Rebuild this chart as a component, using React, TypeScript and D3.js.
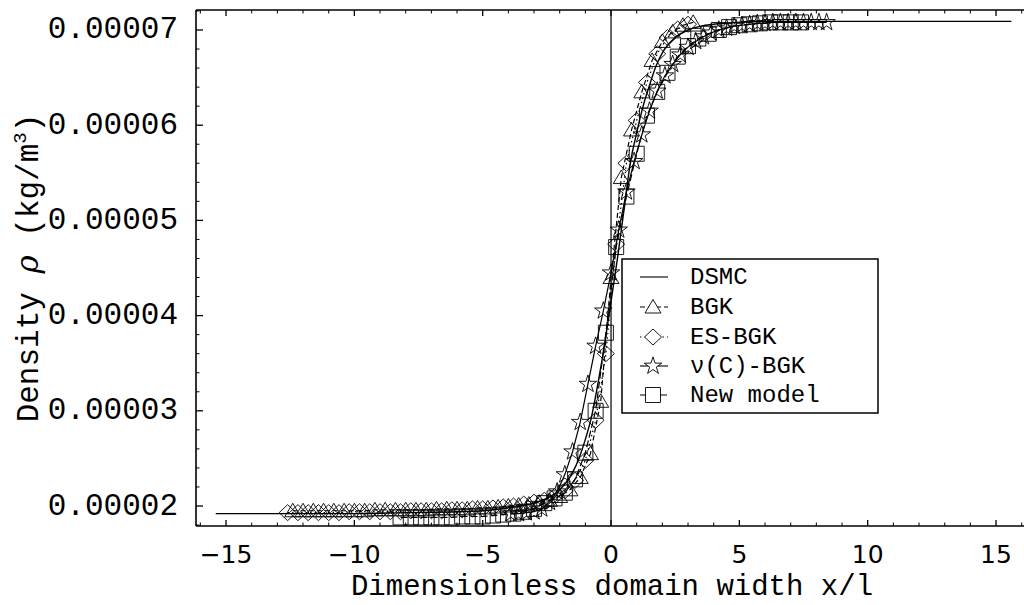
import React from 'react'
import * as d3 from 'd3'

// density values are in units of 1e-5 kg/m^3
const xTicks = [-15, -10, -5, 0, 5, 10, 15]
const xTickLabels = ['\u221215', '\u221210', '\u22125', '0', '5', '10', '15']
const yTicks = [2, 3, 4, 5, 6, 7]
const yTickLabels = ['0.00002', '0.00003', '0.00004', '0.00005', '0.00006', '0.00007']

const dsmcX = [-15.4, -12, -10, -8, -6, -5, -4, -3, -2.5, -2, -1.5, -1.25, -1, -0.75, -0.5, -0.25, 0, 0.25, 0.5, 0.75, 1, 1.25, 1.5, 1.75, 2, 2.5, 3, 3.5, 4, 5, 6, 15.6]
const dsmcRho = [1.92, 1.92, 1.92, 1.93, 1.94, 1.95, 1.98, 2.03, 2.08, 2.17, 2.35, 2.5, 2.7, 2.95, 3.3, 3.7, 4.15, 4.6, 5.1, 5.6, 5.92, 6.2, 6.42, 6.62, 6.76, 6.92, 7.0, 7.04, 7.06, 7.08, 7.09, 7.09]

const bgkX = [-12.4, -12, -11.6, -11.2, -10.8, -10.4, -10, -9.6, -9.2, -8.8, -8.4, -8, -7.6, -7.2, -6.8, -6.4, -6, -5.6, -5.2, -4.8, -4.4, -4, -3.6, -3.2, -2.8, -2.4, -2, -1.6, -1.2, -0.8, -0.4, 0, 0.4, 0.8, 1.2, 1.6, 2, 2.4, 2.8, 3.2]
const bgkRho = [1.95, 1.95, 1.95, 1.95, 1.95, 1.95, 1.95, 1.95, 1.96, 1.96, 1.96, 1.96, 1.96, 1.96, 1.97, 1.97, 1.97, 1.97, 1.98, 1.98, 1.99, 2.0, 2.01, 2.02, 2.04, 2.06, 2.1, 2.17, 2.3, 2.55, 3.1, 4.4, 5.45, 5.95, 6.35, 6.68, 6.88, 6.98, 7.05, 7.08]

const esX = [-12.6, -12.2, -11.8, -11.4, -11, -10.6, -10.2, -9.8, -9.4, -9, -8.6, -8.2, -7.8, -7.4, -7, -6.6, -6.2, -5.8, -5.4, -5, -4.6, -4.2, -3.8, -3.4, -3, -2.6, -2.2, -1.8, -1.4, -1, -0.6, -0.2, 0.2, 0.6, 1, 1.4, 1.8, 2.2, 2.6, 3]
const esRho = [1.93, 1.93, 1.93, 1.93, 1.93, 1.93, 1.94, 1.94, 1.94, 1.94, 1.94, 1.94, 1.95, 1.95, 1.95, 1.95, 1.96, 1.96, 1.97, 1.97, 1.98, 1.99, 2.0, 2.02, 2.04, 2.06, 2.1, 2.16, 2.27, 2.48, 2.9, 3.6, 4.75, 5.6, 6.05, 6.45, 6.75, 6.92, 7.01, 7.06]

const nucX = [-3.9, -3.6, -3.3, -3, -2.7, -2.4, -2.1, -1.8, -1.5, -1.2, -0.9, -0.6, -0.3, 0, 0.3, 0.6, 0.9, 1.2, 1.5, 1.8, 2.1, 2.4, 2.7, 3, 3.3, 3.6, 3.9, 4.2, 4.5, 4.8, 5.1, 5.4, 5.7, 6, 6.3, 6.6, 6.9, 7.2, 7.5, 7.8, 8.1, 8.4]
const nucRho = [1.92, 1.92, 1.93, 1.94, 1.97, 2.04, 2.15, 2.33, 2.57, 2.88, 3.28, 3.68, 4.05, 4.45, 4.9, 5.3, 5.62, 5.9, 6.15, 6.36, 6.52, 6.64, 6.74, 6.82, 6.88, 6.93, 6.97, 7.0, 7.02, 7.04, 7.05, 7.06, 7.07, 7.07, 7.08, 7.08, 7.08, 7.08, 7.08, 7.08, 7.08, 7.08]

const newX = [-8.2, -7.8, -7.4, -7, -6.6, -6.2, -5.8, -5.4, -5, -4.6, -4.2, -3.8, -3.4, -3, -2.6, -2.2, -1.8, -1.4, -1, -0.6, -0.2, 0.2, 0.6, 1, 1.4, 1.8, 2.2, 2.6, 3, 3.4, 3.8, 4.2, 4.6, 5, 5.4, 5.8, 6.2, 6.6, 7, 7.4]
const newRho = [1.88, 1.88, 1.88, 1.88, 1.88, 1.88, 1.89, 1.89, 1.89, 1.9, 1.91, 1.92, 1.94, 1.97, 2.03, 2.08, 2.14, 2.28, 2.56, 3.0, 3.82, 4.72, 5.25, 5.7, 6.1, 6.35, 6.55, 6.72, 6.83, 6.91, 6.96, 7.0, 7.03, 7.05, 7.06, 7.07, 7.08, 7.08, 7.08, 7.08]

const legendNames = ['DSMC', 'BGK', 'ES-BGK', '\u03bd(C)-BGK', 'New model']

const MONO = '"Liberation Mono", "DejaVu Sans Mono", monospace'

const marker = (kind: string) => {
  if (kind === 'tri') return 'M0,-7.5L8,6L-8,6Z'
  if (kind === 'dia') return 'M0,-8L8.5,0L0,8L-8.5,0Z'
  if (kind === 'sq') return 'M-7.5,-7.5H7.5V7.5H-7.5Z'
  if (kind === 'star') return d3.symbol(d3.symbolStar, 95)() as string
  return ''
}

export default function App() {
  const left = 196, right = 1024, top = 10, bottom = 526
  const x = d3.scaleLinear().domain([-16.17, 16.09]).range([left, right])
  const y = d3.scaleLinear().domain([1.79, 7.21]).range([bottom, top])

  const line = (xs: number[], ys: number[]) =>
    d3.line<number>().x((d, i) => x(xs[i])).y(d => y(d))(ys) as string
  const smooth = (xs: number[], ys: number[]) =>
    d3.line<number>().x((d, i) => x(xs[i])).y(d => y(d)).curve(d3.curveMonotoneX)(ys) as string

  const series = [
    { xs: bgkX, ys: bgkRho, dash: '5,3', m: 'tri' },
    { xs: esX, ys: esRho, dash: '1.5,3', m: 'dia' },
    { xs: nucX, ys: nucRho, dash: '', m: 'star' },
    { xs: newX, ys: newRho, dash: '7,3', m: 'sq' },
  ]

  const xMinor = d3.range(-16, 17, 1)
  const yMinor = d3.range(1.8, 7.21, 0.2)

  const legendRows = [277, 307, 337, 366, 395]
  const legendStyle = [
    { dash: '', m: '' },
    { dash: '5,3', m: 'tri' },
    { dash: '1.5,3', m: 'dia' },
    { dash: '', m: 'star' },
    { dash: '7,3', m: 'sq' },
  ]

  return (
    <svg width={1024} height={605} style={{ position: 'absolute', left: 0, top: 0, background: '#fff' }}>
      <rect x={0} y={0} width={1024} height={605} fill="#fff" />

      {/* zero line */}
      <line x1={x(0)} x2={x(0)} y1={top} y2={bottom} stroke="#000" strokeWidth={1.2} />

      {/* series lines */}
      {series.map((s, i) => (
        <path key={'l' + i} d={line(s.xs, s.ys)} fill="none" stroke="#000" strokeWidth={1.2} strokeDasharray={s.dash} />
      ))}
      <path d={smooth(dsmcX, dsmcRho)} fill="none" stroke="#000" strokeWidth={1.4} />

      {/* markers */}
      {series.map((s, i) =>
        s.ys.map((v, j) => (
          <path key={'m' + i + '-' + j} d={marker(s.m)} transform={`translate(${x(s.xs[j])},${y(v)})`}
            fill="none" stroke="#000" strokeWidth={0.9} />
        ))
      )}

      {/* frame */}
      <line x1={left} x2={left} y1={top} y2={bottom} stroke="#000" strokeWidth={1.6} />
      <line x1={left} x2={right} y1={top} y2={top} stroke="#000" strokeWidth={1.6} />
      <line x1={left} x2={right} y1={bottom} y2={bottom} stroke="#000" strokeWidth={1.6} />

      {/* x ticks, bottom and top */}
      {xMinor.map(t => {
        const major = t % 5 === 0
        const len = major ? 6 : 3.5
        return (
          <g key={'xt' + t}>
            <line x1={x(t)} x2={x(t)} y1={bottom} y2={bottom - len} stroke="#000" strokeWidth={major ? 1.3 : 1} />
            <line x1={x(t)} x2={x(t)} y1={top} y2={top + len} stroke="#000" strokeWidth={major ? 1.3 : 1} />
          </g>
        )
      })}
      {/* y ticks */}
      {yMinor.map((t, i) => {
        const major = Math.abs(t - Math.round(t)) < 1e-6
        const len = major ? 7 : 3.5
        return <line key={'yt' + i} x1={left} x2={left + len} y1={y(t)} y2={y(t)} stroke="#000" strokeWidth={major ? 1.3 : 1} />
      })}

      {xTicks.map((t, i) => (
        <text key={'xl' + t} x={x(t)} y={563} textAnchor="middle" fontFamily='"DejaVu Sans", sans-serif' fontSize={25} fill="#000">
          {xTickLabels[i]}
        </text>
      ))}
      {yTicks.map((t, i) => (
        <text key={'yl' + t} x={178} y={y(t)} textAnchor="end" dominantBaseline="central" fontFamily={MONO} fontSize={31} fill="#000">
          {yTickLabels[i]}
        </text>
      ))}

      {/* axis titles */}
      <text x={612} y={595} textAnchor="middle" fontFamily={MONO} fontSize={29} fill="#000">
        Dimensionless domain width x/l
      </text>
      <text transform={`translate(38,${(top + bottom) / 2}) rotate(-90)`} textAnchor="middle" fontFamily={MONO} fontSize={31} fill="#000">
        <tspan>Density </tspan>
        <tspan fontStyle="italic" fontFamily='"DejaVu Serif", serif'>ρ</tspan>
        <tspan> (kg/m</tspan>
        <tspan fontSize={19} dy={-12}>3</tspan>
        <tspan dy={12}>)</tspan>
      </text>

      {/* legend */}
      <rect x={622} y={259} width={256} height={154} fill="#fff" stroke="#000" strokeWidth={1.5} />
      {legendNames.map((name, i) => (
        <g key={'lg' + i}>
          <line x1={640} x2={668} y1={legendRows[i]} y2={legendRows[i]} stroke="#000" strokeWidth={1.1} strokeDasharray={legendStyle[i].dash} />
          {legendStyle[i].m && (
            <path d={marker(legendStyle[i].m)} transform={`translate(653,${legendRows[i]})`} fill="#fff" stroke="#000" strokeWidth={0.9} />
          )}
          <text x={690} y={legendRows[i]} dominantBaseline="central" fontFamily={MONO} fontSize={24} fill="#000">
            {name}
          </text>
        </g>
      ))}
    </svg>
  )
}
